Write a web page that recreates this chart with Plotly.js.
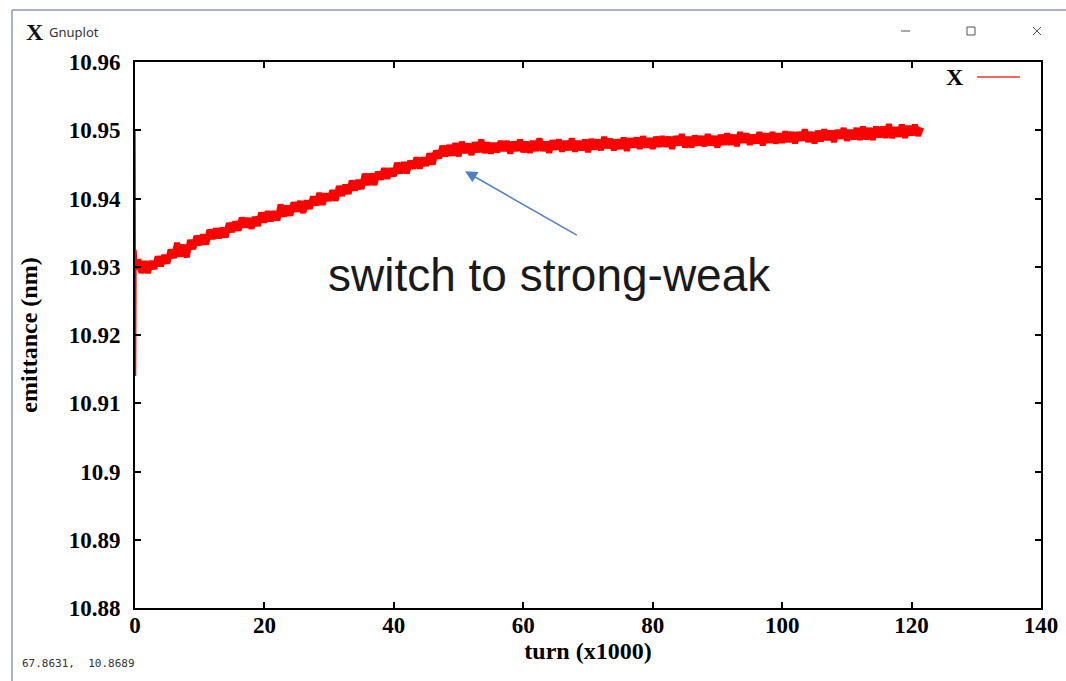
<!DOCTYPE html>
<html>
<head>
<meta charset="utf-8">
<script src="https://cdn.plot.ly/plotly-3.0.1.min.js"></script>
<style>
html,body{margin:0;padding:0;background:#fff;}
#chart{width:1066px;height:681px;}
</style>
</head>
<body>
<div id="chart"></div>
<script>
// ---- data ----
const seriesName = 'X';
const spikeTurn = [0, 0.08, 0.15, 0.3];
const spikeEmit = [10.9500, 10.9140, 10.9325, 10.9295];
const turnStart = 0.5;
const turnStep = 0.5;
const emittance = [
10.9311,10.9291,10.9308,10.9291,10.9308,10.9297,10.9315,10.9301,10.9317,10.9305,
10.9325,10.9313,10.9335,10.9315,10.9332,10.9314,10.9339,10.9326,10.9345,10.9332,
10.9347,10.9333,10.9354,10.9341,10.9356,10.9342,10.9357,10.9343,10.9364,10.9351,
10.9366,10.9353,10.9372,10.9358,10.9371,10.9356,10.9373,10.9360,10.9379,10.9365,
10.9381,10.9367,10.9381,10.9368,10.9391,10.9374,10.9389,10.9375,10.9394,10.9381,
10.9396,10.9379,10.9397,10.9385,10.9403,10.9390,10.9408,10.9391,10.9407,10.9397,
10.9412,10.9397,10.9418,10.9404,10.9420,10.9407,10.9426,10.9412,10.9427,10.9414,
10.9436,10.9420,10.9436,10.9420,10.9439,10.9428,10.9444,10.9429,10.9444,10.9433,
10.9452,10.9437,10.9453,10.9437,10.9455,10.9444,10.9460,10.9444,10.9460,10.9448,
10.9466,10.9450,10.9470,10.9459,10.9477,10.9462,10.9478,10.9463,10.9481,10.9462,
10.9483,10.9467,10.9480,10.9464,10.9482,10.9468,10.9486,10.9467,10.9482,10.9466,
10.9481,10.9468,10.9484,10.9470,10.9484,10.9466,10.9483,10.9470,10.9486,10.9468,
10.9483,10.9467,10.9484,10.9470,10.9488,10.9470,10.9483,10.9467,10.9485,10.9472,
10.9486,10.9469,10.9484,10.9471,10.9488,10.9469,10.9484,10.9471,10.9486,10.9468,
10.9487,10.9472,10.9486,10.9471,10.9490,10.9474,10.9487,10.9471,10.9486,10.9473,
10.9489,10.9470,10.9488,10.9475,10.9489,10.9473,10.9491,10.9475,10.9488,10.9473,
10.9490,10.9476,10.9491,10.9476,10.9490,10.9473,10.9491,10.9478,10.9494,10.9475,
10.9490,10.9475,10.9492,10.9478,10.9491,10.9477,10.9494,10.9478,10.9491,10.9475,
10.9493,10.9479,10.9495,10.9479,10.9493,10.9477,10.9497,10.9482,10.9495,10.9479,
10.9493,10.9481,10.9497,10.9478,10.9495,10.9482,10.9497,10.9481,10.9495,10.9482,
10.9498,10.9483,10.9497,10.9481,10.9497,10.9485,10.9501,10.9483,10.9497,10.9481,
10.9499,10.9484,10.9501,10.9486,10.9499,10.9483,10.9500,10.9488,10.9503,10.9485,
10.9500,10.9487,10.9503,10.9486,10.9505,10.9487,10.9503,10.9486,10.9505,10.9490,
10.9505,10.9489,10.9509,10.9489,10.9504,10.9491,10.9508,10.9489,10.9506,10.9493,
10.9508,10.9492,10.9504
];
const xTickVals = [0, 20, 40, 60, 80, 100, 120, 140];
const yTickVals = [10.88, 10.89, 10.90, 10.91, 10.92, 10.93, 10.94, 10.95, 10.96];
const yTickText = ['10.88', '10.89', '10.9', '10.91', '10.92', '10.93', '10.94', '10.95', '10.96'];
const xTitle = 'turn (x1000)';
const yTitle = 'emittance (nm)';
const noteText = 'switch to strong-weak';
const noteTip = [51.0, 10.9440];
const noteTail = [68.5, 10.9345];
const statusText = '67.8631,  10.8689';

// ---- build traces ----
const spikeX = spikeTurn.concat([turnStart]);
const spikeY = spikeEmit.concat([emittance[0]]);
const turns = [];
for (let i = 0; i < emittance.length; i++) turns.push(turnStart + i * turnStep);

// plot-area pixel frame
const L = 135, R = 1041, T = 62, B = 608;
const PX = p => (p - L) / (R - L);
const PY = p => (B - p) / (B - T);

const tickFont = {family: 'Liberation Serif, serif', size: 23, color: '#000', weight: 700};
const titleFont = {family: 'Liberation Serif, serif', size: 24, color: '#000', weight: 700};

const traces = [
  {x: spikeX, y: spikeY, type: 'scatter', mode: 'lines', name: seriesName,
   line: {color: '#ff0000', width: 1.5}, showlegend: false, hoverinfo: 'skip'},
  {x: turns, y: emittance, type: 'scatter', mode: 'lines', name: seriesName,
   line: {color: '#ff0000', width: 6}, showlegend: false, hoverinfo: 'skip'}
];

const layout = {
  width: 1066, height: 681,
  margin: {l: L, r: 1066 - R, t: T, b: 681 - B},
  paper_bgcolor: '#ffffff', plot_bgcolor: '#ffffff',
  showlegend: false,
  xaxis: {
    range: [0, 140], tickvals: xTickVals, ticks: 'inside', ticklen: 6, tickwidth: 2,
    tickcolor: '#000', showline: true, linecolor: '#000', linewidth: 2, mirror: 'allticks',
    showgrid: false, zeroline: false, tickfont: tickFont, ticklabelstandoff: -5,
    title: {text: xTitle, font: titleFont, standoff: 0}
  },
  yaxis: {
    range: [10.88, 10.96], tickvals: yTickVals, ticktext: yTickText, ticks: 'inside', ticklen: 6,
    tickwidth: 2, tickcolor: '#000', showline: true, linecolor: '#000', linewidth: 2,
    mirror: 'allticks', showgrid: false, zeroline: false, tickfont: tickFont,
    ticklabelstandoff: 8,
    title: {text: yTitle, font: titleFont, standoff: 24}
  },
  shapes: [
    {type: 'line', xref: 'paper', yref: 'paper', x0: PX(12), x1: PX(1066), y0: PY(10), y1: PY(10),
     line: {color: '#8a9bb8', width: 1.5}},
    {type: 'line', xref: 'paper', yref: 'paper', x0: PX(12), x1: PX(12), y0: PY(10), y1: PY(681),
     line: {color: '#8a9bb8', width: 1.5}},
    {type: 'line', xref: 'paper', yref: 'paper', x0: PX(901), x1: PX(910), y0: PY(31), y1: PY(31),
     line: {color: '#555', width: 1}},
    {type: 'rect', xref: 'paper', yref: 'paper', x0: PX(967), x1: PX(975), y0: PY(27), y1: PY(35),
     line: {color: '#555', width: 1}},
    {type: 'line', xref: 'paper', yref: 'paper', x0: PX(1033), x1: PX(1041), y0: PY(27), y1: PY(35),
     line: {color: '#555', width: 1}},
    {type: 'line', xref: 'paper', yref: 'paper', x0: PX(1033), x1: PX(1041), y0: PY(35), y1: PY(27),
     line: {color: '#555', width: 1}},
    {type: 'line', xref: 'paper', yref: 'paper', x0: PX(977), x1: PX(1020), y0: PY(77), y1: PY(77),
     line: {color: '#ff3030', width: 1.5}}
  ],
  annotations: [
    {xref: 'paper', yref: 'paper', x: PX(24), y: PY(32), xanchor: 'left', yanchor: 'middle',
     text: 'X', showarrow: false, font: {family: 'Liberation Serif, serif', size: 24, color: '#111', weight: 700}},
    {xref: 'paper', yref: 'paper', x: PX(47), y: PY(32), xanchor: 'left', yanchor: 'middle',
     text: 'Gnuplot', showarrow: false, font: {family: 'Noto Sans, sans-serif', size: 13, color: '#333'}},
    {xref: 'paper', yref: 'paper', x: PX(966), y: PY(77), xanchor: 'right', yanchor: 'middle',
     text: seriesName, showarrow: false, font: {family: 'Liberation Serif, serif', size: 24, color: '#000', weight: 700}},
    {xref: 'paper', yref: 'paper', x: PX(20), y: PY(663), xanchor: 'left', yanchor: 'middle',
     text: statusText, showarrow: false, font: {family: 'DejaVu Sans Mono, monospace', size: 11, color: '#333'}},
    {xref: 'x', yref: 'y', x: noteTip[0], y: noteTip[1], axref: 'x', ayref: 'y',
     ax: noteTail[0], ay: noteTail[1], text: '', showarrow: true, arrowhead: 2, arrowsize: 1.6,
     arrowwidth: 1.5, arrowcolor: '#4f7fc4', standoff: 0},
    {xref: 'paper', yref: 'paper', x: PX(549), y: PY(275), xanchor: 'center', yanchor: 'middle',
     text: noteText, showarrow: false, font: {family: 'Liberation Sans, Arial, sans-serif', size: 46, color: '#1a1a1a'}}
  ]
};

Plotly.newPlot('chart', traces, layout, {displayModeBar: false, staticPlot: true});
</script>
</body>
</html>
